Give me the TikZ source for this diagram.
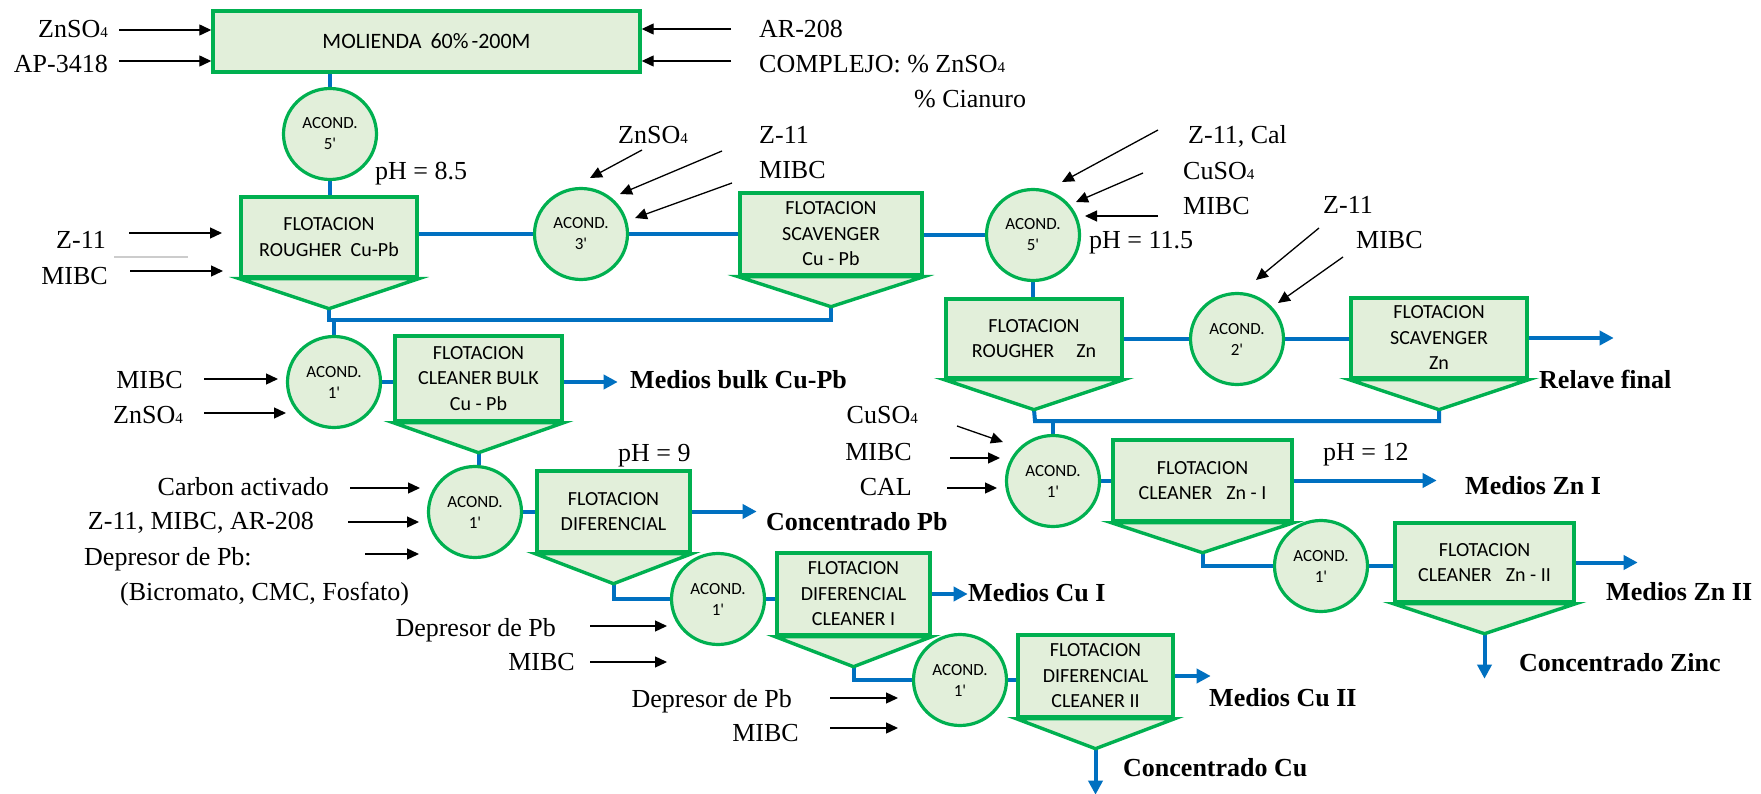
\documentclass[tikz,border=0pt]{standalone}
\usepackage{fontspec}
\setmainfont{Liberation Serif}
\newfontfamily\boxfont{Carlito}
\usetikzlibrary{arrows.meta,shapes.geometric}
\pgfdeclarelayer{bg}
\pgfdeclarelayer{paper}
\pgfsetlayers{paper,bg,main}
\definecolor{grn}{HTML}{00B050}
\definecolor{lgrn}{HTML}{E2EFDA}
\definecolor{blu}{HTML}{0070C0}
\newcommand\lowfour{{\fontsize{15}{15}\selectfont 4}}
\newcommand\hopper[1]{\path (#1.south) ++(0,30) coordinate (#1apex);
  \draw[hop] (#1.south west) -- (#1.south east) -- (#1apex) -- cycle;}
\begin{document}
\begin{tikzpicture}[x=1pt,y=-1pt,
 flot/.style={draw=grn, fill=lgrn, line width=3.4pt, inner sep=0pt, align=center, font=\boxfont\fontsize{20}{25.5}\selectfont},
 hop/.style={draw=grn, fill=lgrn, line width=3.4pt, line join=miter},
 acond/.style={ellipse, draw=grn, fill=lgrn, line width=3.2pt, minimum width=93pt, minimum height=91pt, inner sep=0pt, align=center, font=\boxfont\fontsize{17}{21}\selectfont},
 flow/.style={draw=blu, line width=4pt},
 flowarr/.style={flow, -{Triangle[length=14pt,width=14pt]}},
 feed/.style={draw=black, line width=1.3pt, -{Triangle[length=12pt,width=11pt]}},
 lab/.style={inner sep=0pt, text height=17pt, text depth=0pt, font=\fontsize{26}{30}\selectfont},
 blab/.style={lab, font=\fontsize{26}{30}\selectfont\bfseries},
]
\begin{pgfonlayer}{paper}
\fill[white] (0,0) rectangle (1761,794);
\end{pgfonlayer}
\path[use as bounding box] (0,0) rectangle (1761,794);

% ---------- process units ----------
\node[flot, minimum width=427pt, minimum height=61pt, font=\boxfont\fontsize{22}{26}\selectfont] (MOL) at (426.5,41.5) {MOLIENDA\hspace{9pt}60\%\hspace{3pt}-200M};
\node[acond] (A5a) at (330,134) {ACOND.\\5\textquotesingle};
\node[flot, minimum width=176pt, minimum height=80pt] (RCP) at (329,237) {FLOTACION\\ROUGHER\hspace{9pt}Cu-Pb};
\hopper{RCP}
\node[acond] (A3) at (581,234) {ACOND.\\3\textquotesingle};
\node[flot, minimum width=182pt, minimum height=82pt] (SCP) at (831,234) {FLOTACION\\SCAVENGER\\Cu - Pb};
\hopper{SCP}
\node[acond] (A5b) at (1033,235) {ACOND.\\5\textquotesingle};
\node[flot, minimum width=176pt, minimum height=79pt] (RZN) at (1034,338.5) {FLOTACION\\ROUGHER\hspace{22pt}Zn};
\hopper{RZN}
\node[acond] (A2) at (1237,339) {ACOND.\\2\textquotesingle};
\node[flot, minimum width=176pt, minimum height=80pt] (SZN) at (1439,338) {FLOTACION\\SCAVENGER\\Zn};
\hopper{SZN}
\node[acond] (A1b) at (334,382) {ACOND.\\1\textquotesingle};
\node[flot, minimum width=167pt, minimum height=85pt] (CBK) at (478.5,378.5) {FLOTACION\\CLEANER BULK\\Cu - Pb};
\hopper{CBK}
\node[acond] (A1d) at (475,512) {ACOND.\\1\textquotesingle};
\node[flot, minimum width=153pt, minimum height=81pt] (DIF) at (613.5,511.5) {FLOTACION\\DIFERENCIAL};
\hopper{DIF}
\node[acond] (A1c1) at (718,599) {ACOND.\\1\textquotesingle};
\node[flot, minimum width=153pt, minimum height=82pt] (DC1) at (853.5,594) {FLOTACION\\DIFERENCIAL\\CLEANER I};
\hopper{DC1}
\node[acond] (A1c2) at (960,680) {ACOND.\\1\textquotesingle};
\node[flot, minimum width=155pt, minimum height=82pt] (DC2) at (1095.5,676) {FLOTACION\\DIFERENCIAL\\CLEANER II};
\hopper{DC2}
\node[acond] (A1z) at (1053,481) {ACOND.\\1\textquotesingle};
\node[flot, minimum width=179pt, minimum height=81pt] (CZ1) at (1202.5,480.5) {FLOTACION\\CLEANER\hspace{14pt}Zn - I};
\hopper{CZ1}
\node[acond] (A1z2) at (1321,566) {ACOND.\\1\textquotesingle};
\node[flot, minimum width=179pt, minimum height=79pt] (CZ2) at (1484.5,562.5) {FLOTACION\\CLEANER\hspace{14pt}Zn - II};
\hopper{CZ2}

% ---------- flow connectors ----------
\coordinate (j1) at (329,320);
\coordinate (j2) at (1035,421);
\begin{pgfonlayer}{bg}
\draw[flow] (A5a.north) -- (A5a.north |- MOL.south);
\draw[flow] (A5a.south) -- (A5a.south |- RCP.north);
\draw[flow] (A3.west) -- (A3.west -| RCP.east);
\draw[flow] (A3.east) -- (A3.east -| SCP.west);
\draw[flow] (A5b.west) -- (A5b.west -| SCP.east);
\draw[flow] (A5b.south) -- (A5b.south |- RZN.north);
\draw[flow] (A2.west) -- (A2.west -| RZN.east);
\draw[flow] (A2.east) -- (A2.east -| SZN.west);
\draw[flow] (RCPapex) -- (j1) -| (SCPapex);
\draw[flow] (A1b.north) -- (A1b.north |- j1);
\draw[flow] (A1b.east) -- (A1b.east -| CBK.west);
\draw[flow] (CBKapex) -- (CBKapex |- A1d.north);
\draw[flow] (A1d.east) -- (A1d.east -| DIF.west);
\draw[flow] (DIFapex) |- (A1c1.west);
\draw[flow] (A1c1.east) -- (A1c1.east -| DC1.west);
\draw[flow] (DC1apex) |- (A1c2.west);
\draw[flow] (A1c2.east) -- (A1c2.east -| DC2.west);
\draw[flow] (RZNapex) -- (j2) -| (SZNapex);
\draw[flow] (A1z.north) -- (A1z.north |- j2);
\draw[flow] (A1z.east) -- (A1z.east -| CZ1.west);
\draw[flow] (CZ1apex) |- (A1z2.west);
\draw[flow] (A1z2.east) -- (A1z2.east -| CZ2.west);
\draw[flowarr] (SZN.east) -- ++(85,0);
\draw[flowarr] (CBK.east |- A1b.east) -- ++(54,0);
\draw[flowarr] (DIF.east) -- ++(65,0);
\draw[flowarr] (DC1.east) -- ++(36,0);
\draw[flowarr] (DC2.east) -- ++(36,0);
\draw[flowarr] (CZ1.east) -- ++(143,0);
\draw[flowarr] (CZ2.east) -- ++(62,0);
\draw[flowarr] (DC2apex) -- ++(0,46);
\draw[flowarr] (CZ2apex) -- ++(0,45);
\end{pgfonlayer}

% ---------- labels ----------
\node[lab, anchor=east] (l1) at (108,29) {ZnSO\lowfour};
\node[lab, anchor=east] (l2) at (108,64) {AP-3418};
\node[lab, anchor=west] (l3) at (759,29) {AR-208};
\node[lab, anchor=west] (l4) at (759,64) {COMPLEJO: \% ZnSO\lowfour};
\node[lab, anchor=west] (l5) at (914,99) {\% Cianuro};
\node[lab, anchor=west] (ph1) at (375,171) {pH = 8.5};
\node[lab, anchor=east] (l6) at (106,240) {Z-11};
\node[lab, anchor=east] (l7) at (108,276) {MIBC};
\node[lab, anchor=west] (l8) at (618,135) {ZnSO\lowfour};
\node[lab, anchor=west] (l9) at (759,135) {Z-11};
\node[lab, anchor=west] (l10) at (759,170) {MIBC};
\node[lab, anchor=west] (l11) at (1188,135) {Z-11, Cal};
\node[lab, anchor=west] (l12) at (1183,171) {CuSO\lowfour};
\node[lab, anchor=west] (l13) at (1183,206) {MIBC};
\node[lab, anchor=west] (ph2) at (1089,240) {pH = 11.5};
\node[lab, anchor=west] (l14) at (1323,205) {Z-11};
\node[lab, anchor=west] (l15) at (1356,240) {MIBC};
\node[blab, anchor=west] (o1) at (1539,380) {Relave final};
\node[lab, anchor=east] (l16) at (183,380) {MIBC};
\node[lab, anchor=east] (l17) at (183,415) {ZnSO\lowfour};
\node[blab, anchor=west] (o2) at (630,380) {Medios bulk Cu-Pb};
\node[lab, anchor=west] (ph3) at (618,453) {pH = 9};
\node[lab, anchor=east] (l18) at (329,487) {Carbon activado};
\node[lab, anchor=east] (l19) at (314,521) {Z-11, MIBC, AR-208};
\node[lab, anchor=west] (l20) at (84,557) {Depresor de Pb:};
\node[lab, anchor=west] (l21) at (120,592) {(Bicromato, CMC, Fosfato)};
\node[blab, anchor=west] (o3) at (766,522) {Concentrado Pb};
\node[lab, anchor=east] (l22) at (918,415) {CuSO\lowfour};
\node[lab, anchor=east] (l23) at (912,452) {MIBC};
\node[lab, anchor=east] (l24) at (912,487) {CAL};
\node[lab, anchor=west] (ph4) at (1323,452) {pH = 12};
\node[blab, anchor=west] (o4) at (1465,486) {Medios Zn I};
\node[blab, anchor=west] (o5) at (1606,592) {Medios Zn II};
\node[blab, anchor=west] (o6) at (1519,663) {Concentrado Zinc};
\node[blab, anchor=west] (o7) at (968,593) {Medios Cu I};
\node[lab, anchor=east] (l25) at (556,628) {Depresor de Pb};
\node[lab, anchor=east] (l26) at (575,662) {MIBC};
\node[blab, anchor=west] (o8) at (1209,698) {Medios Cu II};
\node[blab, anchor=west] (o9) at (1123,768) {Concentrado Cu};
\node[lab, anchor=east] (l27) at (792,699) {Depresor de Pb};
\node[lab, anchor=east] (l28) at (799,733) {MIBC};

\draw[black!20, line width=2pt] (114,257) -- (188,257);

% ---------- reagent feed arrows ----------
\coordinate (f1) at (119,30);  \draw[feed] (f1) -- (f1 -| MOL.west);
\coordinate (f2) at (119,61);  \draw[feed] (f2) -- (f2 -| MOL.west);
\coordinate (f3) at (731,29);  \draw[feed] (f3) -- (f3 -| MOL.east);
\coordinate (f4) at (731,61);  \draw[feed] (f4) -- (f4 -| MOL.east);
\coordinate (f5) at (129,233); \coordinate (t5) at (222,233); \draw[feed] (f5) -- (t5);
\coordinate (f6) at (130,271); \coordinate (t6) at (223,271); \draw[feed] (f6) -- (t6);
\coordinate (f7) at (642,150); \coordinate (t7) at (590,178); \draw[feed] (f7) -- (t7);
\coordinate (f8) at (722,151); \coordinate (t8) at (620,194); \draw[feed] (f8) -- (t8);
\coordinate (f9) at (732,183); \coordinate (t9) at (635,218); \draw[feed] (f9) -- (t9);
\coordinate (f10) at (1158,130); \coordinate (t10) at (1062,182); \draw[feed] (f10) -- (t10);
\coordinate (f11) at (1143,173); \coordinate (t11) at (1076,202); \draw[feed] (f11) -- (t11);
\coordinate (f12) at (1158,216); \coordinate (t12) at (1085,216); \draw[feed] (f12) -- (t12);
\coordinate (f13) at (1319,228); \coordinate (t13) at (1256,280); \draw[feed] (f13) -- (t13);
\coordinate (f14) at (1343,257); \coordinate (t14) at (1278,303); \draw[feed] (f14) -- (t14);
\coordinate (f15) at (204,379); \coordinate (t15) at (278,379); \draw[feed] (f15) -- (t15);
\coordinate (f16) at (204,413); \coordinate (t16) at (286,413); \draw[feed] (f16) -- (t16);
\coordinate (f17) at (350,488); \coordinate (t17) at (420,488); \draw[feed] (f17) -- (t17);
\coordinate (f18) at (348,522); \coordinate (t18) at (419,522); \draw[feed] (f18) -- (t18);
\coordinate (f19) at (365,554); \coordinate (t19) at (419,554); \draw[feed] (f19) -- (t19);
\coordinate (f20) at (957,426); \coordinate (t20) at (1003,442); \draw[feed] (f20) -- (t20);
\coordinate (f21) at (950,458); \coordinate (t21) at (1000,458); \draw[feed] (f21) -- (t21);
\coordinate (f22) at (947,488); \coordinate (t22) at (997,488); \draw[feed] (f22) -- (t22);
\coordinate (f23) at (590,626); \coordinate (t23) at (667,626); \draw[feed] (f23) -- (t23);
\coordinate (f24) at (590,662); \coordinate (t24) at (667,662); \draw[feed] (f24) -- (t24);
\coordinate (f25) at (830,698); \coordinate (t25) at (898,698); \draw[feed] (f25) -- (t25);
\coordinate (f26) at (830,728); \coordinate (t26) at (898,728); \draw[feed] (f26) -- (t26);
\end{tikzpicture}
\end{document}
